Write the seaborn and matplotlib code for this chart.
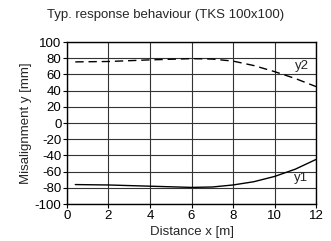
import matplotlib
matplotlib.use("Agg")
import matplotlib.pyplot as plt
import seaborn as sns
import pandas as pd

x_y1 = [0.4, 2, 4, 6, 7, 8, 9, 10, 11, 12]
y1 = [-76, -76.5, -78, -79.5, -79, -76.5, -72.5, -66, -57, -45]
x_y2 = [0.4, 2, 4, 6, 7, 8, 9, 10, 11, 12]
y2 = [75.5, 76, 78, 79.5, 79, 76.5, 71, 63.5, 55, 45]

sns.set_theme(style="white")
fam = ["Liberation Sans", "DejaVu Sans"]
plt.rcParams["font.family"] = fam
plt.rcParams["axes.unicode_minus"] = False

fig = plt.figure(figsize=(3.31, 2.41), dpi=100)
ax = fig.add_axes([0.2024, 0.1535, 0.7523, 0.672])

d1 = pd.DataFrame({"x": x_y1, "y": y1})
d2 = pd.DataFrame({"x": x_y2, "y": y2})
sns.lineplot(data=d1, x="x", y="y", ax=ax, color="black", linewidth=1.0)
sns.lineplot(data=d2, x="x", y="y", ax=ax, color="black", linewidth=1.0)
ax.lines[-1].set_dashes([6, 3.5])

ax.set_xlim(0, 12)
ax.set_ylim(-100, 100)
ax.set_xticks(range(0, 13, 2))
ax.set_yticks(range(-100, 101, 20))
ax.grid(True, color="#333333", linewidth=0.8)
ax.set_axisbelow(True)
for s in ax.spines.values():
    s.set_color("black")
    s.set_linewidth(1.0)
ax.tick_params(axis="both", which="both", direction="out", length=3, width=0.8,
               labelsize=9.5, colors="black", left=True, bottom=True, pad=1)
ax.set_xlabel("Distance x [m]", fontsize=9.5, labelpad=3)
ax.set_ylabel("Misalignment y [mm]", fontsize=9.5, labelpad=2)
fig.text(0.5, 1 - 15 / 241, "Typ. response behaviour (TKS 100x100)", fontsize=9.5,
         ha="center", va="center")
ax.text(11.3, 70, "y2", fontsize=9.5, va="center", ha="center")
ax.text(11.3, -68, "y1", fontsize=9.5, va="center", ha="center")

fig.savefig("out.png", dpi=100)
